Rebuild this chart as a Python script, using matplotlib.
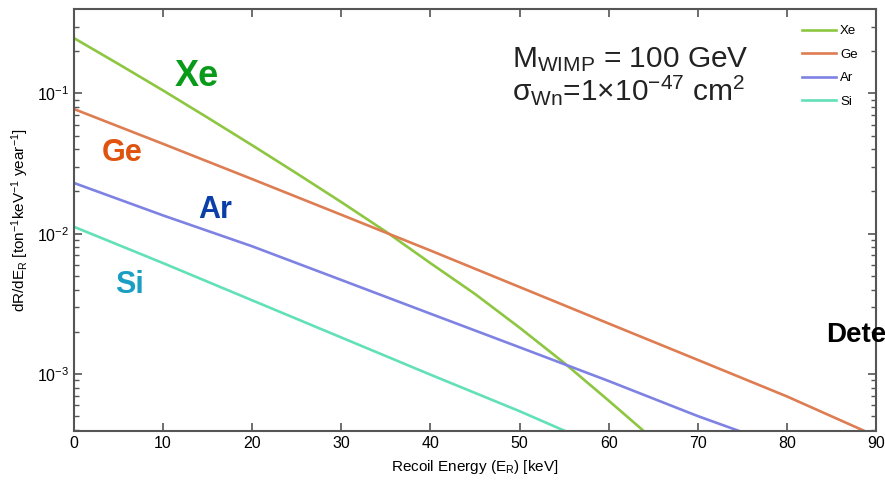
import matplotlib
matplotlib.use("Agg")
import matplotlib.pyplot as plt
from matplotlib.ticker import LogLocator, NullFormatter

plt.rcParams["font.family"] = ["Liberation Sans", "DejaVu Sans"]
plt.rcParams["mathtext.fontset"] = "custom"
plt.rcParams["mathtext.rm"] = "Liberation Sans"
plt.rcParams["mathtext.it"] = "Liberation Sans:italic"
plt.rcParams["axes.unicode_minus"] = False

# recoil spectra (ton^-1 keV^-1 year^-1)
e_xe = [0, 5, 10, 15, 20, 25, 30, 35, 40, 45, 50, 55, 60, 64]
r_xe = [0.248, 0.162, 0.105, 0.0672, 0.0427, 0.0269, 0.0168, 0.01035, 0.00617,
        0.00372, 0.00214, 0.00120, 0.000646, 0.000389]
e_ge = [0, 10, 20, 30, 40, 50, 60, 70, 80, 89]
r_ge = [0.0774, 0.0437, 0.0245, 0.01365, 0.00759, 0.00417, 0.00229, 0.00126,
        0.000692, 0.000385]
e_ar = [0, 10, 20, 30, 40, 50, 60, 70, 75]
r_ar = [0.0230, 0.0135, 0.00813, 0.00468, 0.00269, 0.00155, 0.000891, 0.000501,
        0.000385]
e_si = [0, 10, 20, 30, 40, 50, 55.2]
r_si = [0.0112, 0.00617, 0.00335, 0.00182, 0.000989, 0.000543, 0.000390]

fig = plt.figure(figsize=(8.85, 4.82), dpi=100)
ax = fig.add_axes([0.0836, 0.1064, 0.9062, 0.8743])

ax.plot(e_xe, r_xe, color="#8DC641", lw=1.9, label="Xe")
ax.plot(e_ge, r_ge, color="#DE7C52", lw=1.9, label="Ge")
ax.plot(e_ar, r_ar, color="#7E82E3", lw=1.9, label="Ar")
ax.plot(e_si, r_si, color="#62E0B8", lw=1.9, label="Si")

ax.set_yscale("log")
ax.set_xlim(0, 90)
ax.set_ylim(3.94e-4, 0.398)
ax.set_xticks(range(0, 91, 10))
ax.yaxis.set_major_locator(LogLocator(base=10, numticks=10))
ax.yaxis.set_minor_locator(LogLocator(base=10, subs=range(2, 10), numticks=20))
ax.yaxis.set_minor_formatter(NullFormatter())
ax.tick_params(which="both", direction="in", top=True, right=True, color="#555555",
               labelsize=11.5)
ax.tick_params(which="major", length=6, width=1.2)
ax.tick_params(which="minor", length=3.5, width=1.0)
for s in ax.spines.values():
    s.set_color("#555555"); s.set_linewidth(1.5)

ax.set_xlabel(r"Recoil Energy (E$_{\rm R}$) [keV]", fontsize=11, labelpad=5)
ax.set_ylabel(r"dR/dE$_{\rm R}$ [ton$^{-1}$keV$^{-1}$ year$^{-1}$]", fontsize=11, labelpad=4)

# element labels
ax.text(13.8, 0.132, "Xe", color="#0A9A1A", fontsize=26, fontweight="bold", ha="center", va="center")
ax.text(5.4, 0.0378, "Ge", color="#E0530F", fontsize=22, fontweight="bold", ha="center", va="center")
ax.text(15.8, 0.0148, "Ar", color="#0A3FA8", fontsize=22, fontweight="bold", ha="center", va="center")
ax.text(6.2, 0.00433, "Si", color="#1A9EC4", fontsize=22, fontweight="bold", ha="center", va="center")

ax.text(0.546, 0.863, r"M$_{\rm WIMP}$ = 100 GeV", transform=ax.transAxes, fontsize=21.5,
        ha="left", va="baseline", color="#222222")
ax.text(0.546, 0.785, r"σ$_{\rm Wn}$=1×10$^{-47}$ cm$^{2}$", transform=ax.transAxes, fontsize=21.5,
        ha="left", va="baseline", color="#222222")

ax.legend(loc="upper right", frameon=False, fontsize=9.5, handlelength=2.6,
          handletextpad=0.3, labelspacing=0.85, borderaxespad=0.8,
          bbox_to_anchor=(0.997, 1.0))

fig.text(826 / 885, 1 - 335 / 482, "Detection", fontsize=20, fontweight="bold",
         ha="left", va="center", color="black")

fig.savefig("out.png", dpi=100)
